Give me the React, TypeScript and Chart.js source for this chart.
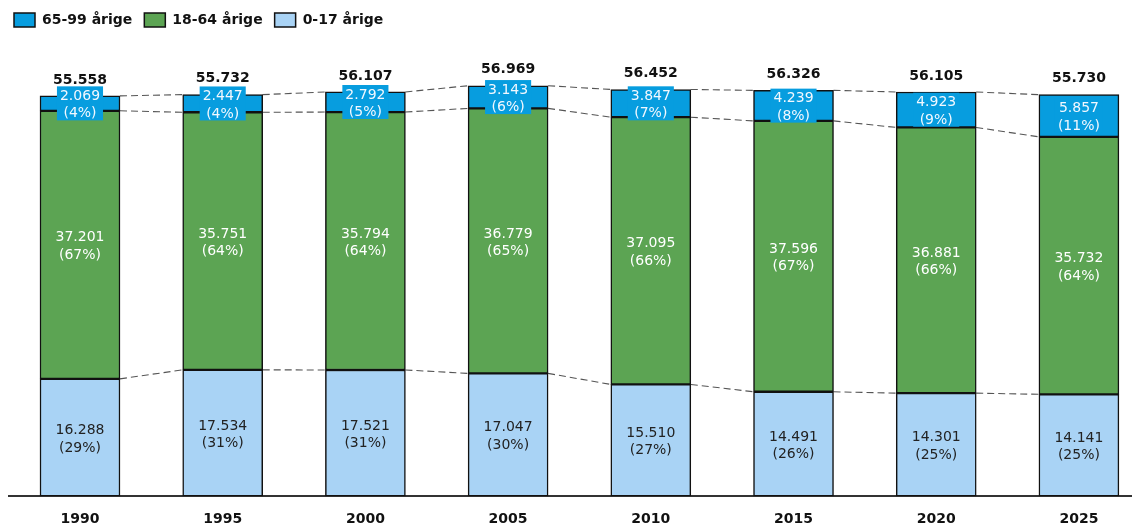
import React, { useEffect, useRef } from "react";
import { Chart, registerables } from "chart.js";
Chart.register(...registerables);

const years = ["1990", "1995", "2000", "2005", "2010", "2015", "2020", "2025"];
const young = [16288, 17534, 17521, 17047, 15510, 14491, 14301, 14141];
const adult = [37201, 35751, 35794, 36779, 37095, 37596, 36881, 35732];
const old = [2069, 2447, 2792, 3143, 3847, 4239, 4923, 5857];
const youngPct = [29, 31, 31, 30, 27, 26, 25, 25];
const adultPct = [67, 64, 64, 65, 66, 67, 66, 64];
const oldPct = [4, 4, 5, 6, 7, 8, 9, 11];
const totals = [55558, 55732, 56107, 56969, 56452, 56326, 56105, 55730];

const seriesNames = ["0-17 årige", "18-64 årige", "65-99 årige"];
const COLORS = ["#A9D3F5", "#5CA453", "#079DDF"];
const TEXT_COLORS = ["#222222", "#FFFFFF", "#F2F8FF"];
const FONT = "'DejaVu Sans', Verdana, sans-serif";

const fmt = (n: number) => String(n).replace(/\B(?=(\d{3})+(?!\d))/g, ".");

const overlay = {
  id: "overlay",
  afterLayout(chart: any) {
    if (chart.legend) {
      chart.legend.left -= 6;
    }
  },
  beforeDatasetsDraw(chart: any) {
    const ctx = chart.ctx;
    const y = chart.scales.y;
    const meta = chart.getDatasetMeta(0);
    const levels = [young, young.map((v, i) => v + adult[i]), totals];
    ctx.save();
    ctx.setLineDash([7, 4]);
    ctx.strokeStyle = "#555555";
    ctx.lineWidth = 1.1;
    levels.forEach((L) => {
      for (let i = 0; i < L.length - 1; i++) {
        const a = meta.data[i];
        const b = meta.data[i + 1];
        ctx.beginPath();
        ctx.moveTo(a.x + a.width / 2, y.getPixelForValue(L[i]));
        ctx.lineTo(b.x - b.width / 2, y.getPixelForValue(L[i + 1]));
        ctx.stroke();
      }
    });
    ctx.restore();
  },
  afterDatasetsDraw(chart: any) {
    const ctx = chart.ctx;
    const vals = [young, adult, old];
    const pcts = [youngPct, adultPct, oldPct];
    ctx.save();
    ctx.textAlign = "center";
    ctx.textBaseline = "middle";
    ctx.font = `14px ${FONT}`;
    for (let d = 0; d < 3; d++) {
      const meta = chart.getDatasetMeta(d);
      meta.data.forEach((el: any, i: number) => {
        const cx = el.x;
        const cy = (el.y + el.base) / 2;
        const l1 = fmt(vals[d][i]);
        const l2 = `(${pcts[d][i]}%)`;
        if (d === 2) {
          const w = Math.max(ctx.measureText(l1).width, ctx.measureText(l2).width);
          ctx.fillStyle = COLORS[2];
          ctx.fillRect(cx - w / 2 - 3, cy - 17, w + 6, 34);
        }
        ctx.fillStyle = TEXT_COLORS[d];
        ctx.fillText(l1, cx, cy - 7);
        ctx.fillText(l2, cx, cy + 10.5);
      });
    }
    const top = chart.getDatasetMeta(2);
    ctx.font = `bold 14px ${FONT}`;
    ctx.fillStyle = "#111111";
    top.data.forEach((el: any, i: number) => {
      ctx.fillText(fmt(totals[i]), el.x, el.y - 16);
    });
    ctx.restore();
  },
};

export default function App() {
  const ref = useRef<HTMLCanvasElement | null>(null);
  useEffect(() => {
    if (!ref.current) return;
    const series = [young, adult, old];
    const chart = new Chart(ref.current, {
      type: "bar",
      data: {
        datasets: series.map((s, d) => ({
          label: seriesNames[d],
          data: s.map((v, i) => ({ x: i, y: v })),
          backgroundColor: COLORS[d],
          borderColor: "#111111",
          borderWidth: 1.5,
          borderSkipped: false,
          barThickness: 80,
        })),
      },
      options: {
        animation: false,
        responsive: true,
        maintainAspectRatio: false,
        layout: { padding: { top: -7, left: 0, right: 0, bottom: -17 } },
        plugins: {
          legend: {
            position: "top",
            align: "start",
            reverse: true,
            labels: {
              boxWidth: 21,
              boxHeight: 14,
              color: "#111111",
              font: { family: FONT, size: 14, weight: "bold" },
              padding: 12,
            },
          },
          tooltip: { enabled: false },
        },
        scales: {
          x: {
            type: "linear",
            stacked: true,
            offset: false,
            bounds: "ticks",
            min: -0.5045,
            max: 7.428,
            grid: { display: false, drawTicks: false, offset: false },
            border: { display: true, color: "#333333", width: 2 },
            afterBuildTicks: (axis: any) => {
              axis.ticks = years.map((_, i) => ({ value: i }));
            },
            ticks: {
              padding: 15,
              maxRotation: 0,
              autoSkip: false,
              color: "#111111",
              font: { family: FONT, size: 14, weight: "bold" },
              callback: (v: any) => years[Math.round(Number(v))] ?? "",
            },
          },
          y: {
            stacked: true,
            display: false,
            min: 0,
            max: 63733,
          },
        },
      },
      plugins: [overlay],
    });
    return () => chart.destroy();
  }, []);
  return (
    <div style={{ width: 1132, height: 518, position: "relative" }}>
      <canvas ref={ref} />
    </div>
  );
}
